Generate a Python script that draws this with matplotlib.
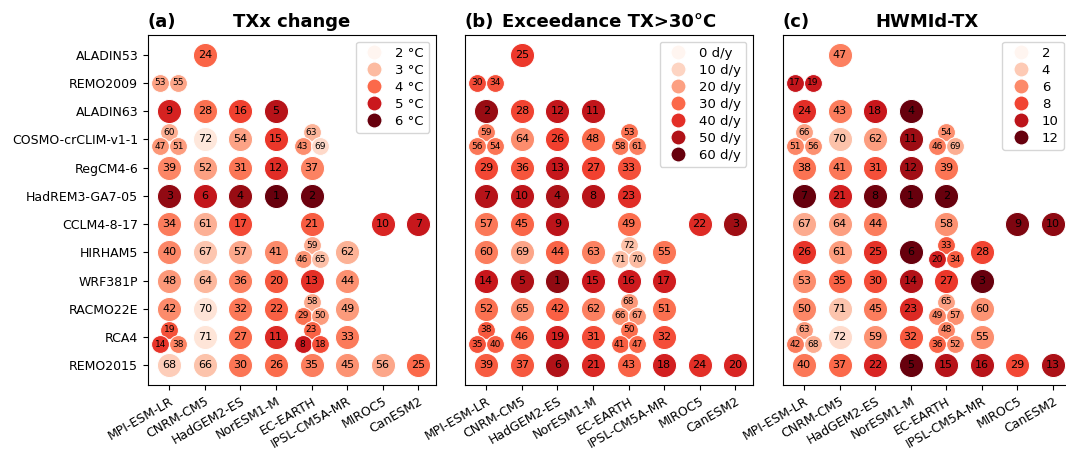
import matplotlib
matplotlib.use('Agg')
import matplotlib.pyplot as plt
from matplotlib.colors import Normalize
from matplotlib.lines import Line2D

rcms = ['ALADIN53', 'REMO2009', 'ALADIN63', 'COSMO-crCLIM-v1-1', 'RegCM4-6',
        'HadREM3-GA7-05', 'CCLM4-8-17', 'HIRHAM5', 'WRF381P', 'RACMO22E',
        'RCA4', 'REMO2015']
gcms = ['MPI-ESM-LR', 'CNRM-CM5', 'HadGEM2-ES', 'NorESM1-M', 'EC-EARTH',
        'IPSL-CM5A-MR', 'MIROC5', 'CanESM2']

# one entry per simulation: (RCM index, GCM index, member slot)
# 'o' single run, 'l'/'r' two runs, 't'/'bl'/'br' three runs
cells = [
    (0, 1, 'o'),
    (1, 0, 'l'), (1, 0, 'r'),
    (2, 0, 'o'), (2, 1, 'o'), (2, 2, 'o'), (2, 3, 'o'),
    (3, 0, 't'), (3, 0, 'bl'), (3, 0, 'br'),
    (3, 1, 'o'), (3, 2, 'o'), (3, 3, 'o'),
    (3, 4, 't'), (3, 4, 'bl'), (3, 4, 'br'),
    (4, 0, 'o'), (4, 1, 'o'), (4, 2, 'o'), (4, 3, 'o'), (4, 4, 'o'),
    (5, 0, 'o'), (5, 1, 'o'), (5, 2, 'o'), (5, 3, 'o'), (5, 4, 'o'),
    (6, 0, 'o'), (6, 1, 'o'), (6, 2, 'o'), (6, 4, 'o'), (6, 6, 'o'), (6, 7, 'o'),
    (7, 0, 'o'), (7, 1, 'o'), (7, 2, 'o'), (7, 3, 'o'),
    (7, 4, 't'), (7, 4, 'bl'), (7, 4, 'br'),
    (7, 5, 'o'),
    (8, 0, 'o'), (8, 1, 'o'), (8, 2, 'o'), (8, 3, 'o'), (8, 4, 'o'), (8, 5, 'o'),
    (9, 0, 'o'), (9, 1, 'o'), (9, 2, 'o'), (9, 3, 'o'),
    (9, 4, 't'), (9, 4, 'bl'), (9, 4, 'br'),
    (9, 5, 'o'),
    (10, 0, 't'), (10, 0, 'bl'), (10, 0, 'br'),
    (10, 1, 'o'), (10, 2, 'o'), (10, 3, 'o'),
    (10, 4, 't'), (10, 4, 'bl'), (10, 4, 'br'),
    (10, 5, 'o'),
    (11, 0, 'o'), (11, 1, 'o'), (11, 2, 'o'), (11, 3, 'o'),
    (11, 4, 'o'), (11, 5, 'o'), (11, 6, 'o'), (11, 7, 'o'),
]

# (a) TXx change, degC
txx_rank = [24, 53, 55, 9, 28, 16, 5, 60, 47, 51, 72, 54, 15, 63, 43, 69,
            39, 52, 31, 12, 37, 3, 6, 4, 1, 2, 34, 61, 17, 21, 10, 7,
            40, 67, 57, 41, 59, 46, 65, 62, 48, 64, 36, 20, 13, 44,
            42, 70, 32, 22, 58, 29, 50, 49, 19, 14, 38, 71, 27, 11, 23, 8, 18, 33,
            68, 66, 30, 26, 35, 45, 56, 25]
txx_change = [4.05, 3.32, 3.28, 4.85, 3.92, 4.45, 5.25, 3.17, 3.45, 3.36, 2.35, 3.3, 4.55, 3.08, 3.55, 2.6,
              3.65, 3.34, 3.85, 4.7, 3.7, 5.65, 5.1, 5.6, 6.0, 5.95, 3.78, 3.14, 4.35, 4.15, 4.8, 5.05,
              3.63, 2.85, 3.24, 3.6, 3.2, 3.48, 2.95, 3.11, 3.43, 3.05, 3.72, 4.2, 4.65, 3.53,
              3.58, 2.45, 3.82, 4.1, 3.22, 3.9, 3.38, 3.4, 4.25, 4.6, 3.68, 2.4, 3.95, 4.75, 4.08, 5.0, 4.3, 3.8,
              2.75, 2.9, 3.87, 3.97, 3.75, 3.5, 3.26, 4.0]

# (b) exceedance of TX>30 degC, days per year
exc_rank = [25, 30, 34, 2, 28, 12, 11, 59, 56, 54, 64, 26, 48, 53, 58, 61,
            29, 36, 13, 27, 33, 7, 10, 4, 8, 23, 57, 45, 9, 49, 22, 3,
            60, 69, 44, 63, 72, 71, 70, 55, 14, 5, 1, 15, 16, 17,
            52, 65, 42, 62, 68, 66, 67, 51, 38, 35, 40, 46, 19, 31, 50, 41, 47, 32,
            39, 37, 6, 21, 43, 18, 24, 20]
exc_days = [38, 35, 34, 54, 36, 46.5, 47, 26.7, 27.5, 28.1, 23.5, 37, 29.8, 28.4, 27, 26.1,
            35.5, 33.3, 46, 36.5, 34.2, 49, 47.5, 51, 48.5, 40.5, 27.2, 30.7, 48, 29.5, 41, 53,
            26.4, 19, 31, 25.5, 14, 14.5, 15, 27.8, 45.5, 50.5, 55, 45, 44.5, 44,
            28.7, 23, 31.5, 25.8, 21.5, 22.5, 22, 29, 32.7, 33.6, 32.1, 30.4, 43, 34.8, 29.2, 31.8, 30.1, 34.5,
            32.4, 33, 50, 41.5, 31.2, 43.5, 40, 42]

# (c) HWMId-TX
hwm_rank = [47, 17, 19, 24, 43, 18, 4, 66, 51, 56, 70, 62, 11, 54, 46, 69,
            38, 41, 31, 12, 39, 7, 21, 8, 1, 2, 67, 64, 44, 58, 9, 10,
            26, 61, 25, 6, 33, 20, 34, 28, 53, 35, 30, 14, 27, 3,
            50, 71, 45, 23, 65, 49, 57, 60, 63, 42, 68, 72, 59, 32, 48, 36, 52, 55,
            40, 37, 22, 5, 15, 16, 29, 13]
hwmid = [6.32, 9.7, 9.5, 8.7, 6.42, 9.6, 12.3, 5.3, 6.07, 5.82, 4.3, 5.42, 10.9, 5.88, 6.35, 4.9,
         6.7, 6.55, 7.7, 10.8, 6.65, 12.0, 9.2, 11.8, 13.0, 12.8, 5.0, 5.38, 6.4, 5.78, 11.5, 11.2,
         8.5, 5.45, 8.6, 12.1, 7.4, 9.3, 7.35, 8.0, 5.9, 7.2, 7.75, 10.3, 8.4, 12.5,
         6.1, 4.2, 6.38, 8.9, 5.35, 6.12, 5.8, 5.72, 5.4, 6.45, 4.95, 3.4, 5.75, 7.45, 6.15, 7.15, 6.05, 5.85,
         6.6, 7.0, 9.0, 12.2, 10.2, 10.1, 7.9, 10.5]

txx_legend = [2, 3, 4, 5, 6]
exc_legend = [0, 10, 20, 30, 40, 50, 60]
hwm_legend = [2, 4, 6, 8, 10, 12]

offsets = {'o': (0, 0), 'l': (-0.25, 0), 'r': (0.25, 0),
           't': (0, -0.25), 'bl': (-0.25, 0.25), 'br': (0.25, 0.25)}
cmap = plt.get_cmap('Reds')


def draw_panel(ax, ranks, values, norm, letter, title, leg_vals, unit):
    for (i, j, slot), rk, v in zip(cells, ranks, values):
        dx, dy = offsets[slot]
        small = slot != 'o'
        ax.scatter(j + dx, i + dy, s=165 if small else 300, color=cmap(norm(v)),
                   edgecolors='white', linewidths=0.7, zorder=2)
        ax.text(j + dx, i + dy, str(rk), ha='center', va='center',
                fontsize=6.5 if small else 8, zorder=3)

    ax.set_xlim(-0.6, 7.5)
    ax.set_ylim(11.7, -0.7)
    ax.set_xticks(range(len(gcms)))
    ax.set_xticklabels(gcms, rotation=30, ha='right', rotation_mode='anchor',
                       fontsize=9)
    ax.set_title(title, fontweight='bold', fontsize=13)
    ax.set_title(letter, loc='left', fontweight='bold', fontsize=13)

    handles = [Line2D([], [], ls='', marker='o', markersize=11,
                      markerfacecolor=cmap(norm(v)), markeredgecolor='white',
                      label=f'{v}{unit}') for v in leg_vals]
    ax.legend(handles=handles, loc='upper right', fontsize=9.5,
              labelspacing=0.3, handletextpad=0.6, borderpad=0.4)


fig = plt.figure(figsize=(10.66, 4.5), dpi=100)
ax_a = fig.add_axes([0.1388, 0.1444, 0.2702, 0.778])
ax_b = fig.add_axes([0.4362, 0.1444, 0.2702, 0.778])
ax_c = fig.add_axes([0.7342, 0.1444, 0.2702, 0.778])

draw_panel(ax_a, txx_rank, txx_change, Normalize(2, 6), '(a)', 'TXx change',
           txx_legend, ' °C')
draw_panel(ax_b, exc_rank, exc_days, Normalize(0, 60), '(b)',
           'Exceedance TX>30°C', exc_legend, ' d/y')
draw_panel(ax_c, hwm_rank, hwmid, Normalize(2, 12), '(c)', 'HWMId-TX',
           hwm_legend, '')

ax_a.set_yticks(range(len(rcms)))
ax_a.set_yticklabels(rcms, fontsize=9)
for ax in (ax_b, ax_c):
    ax.set_yticks([])

fig.savefig('out.png', dpi=100)
